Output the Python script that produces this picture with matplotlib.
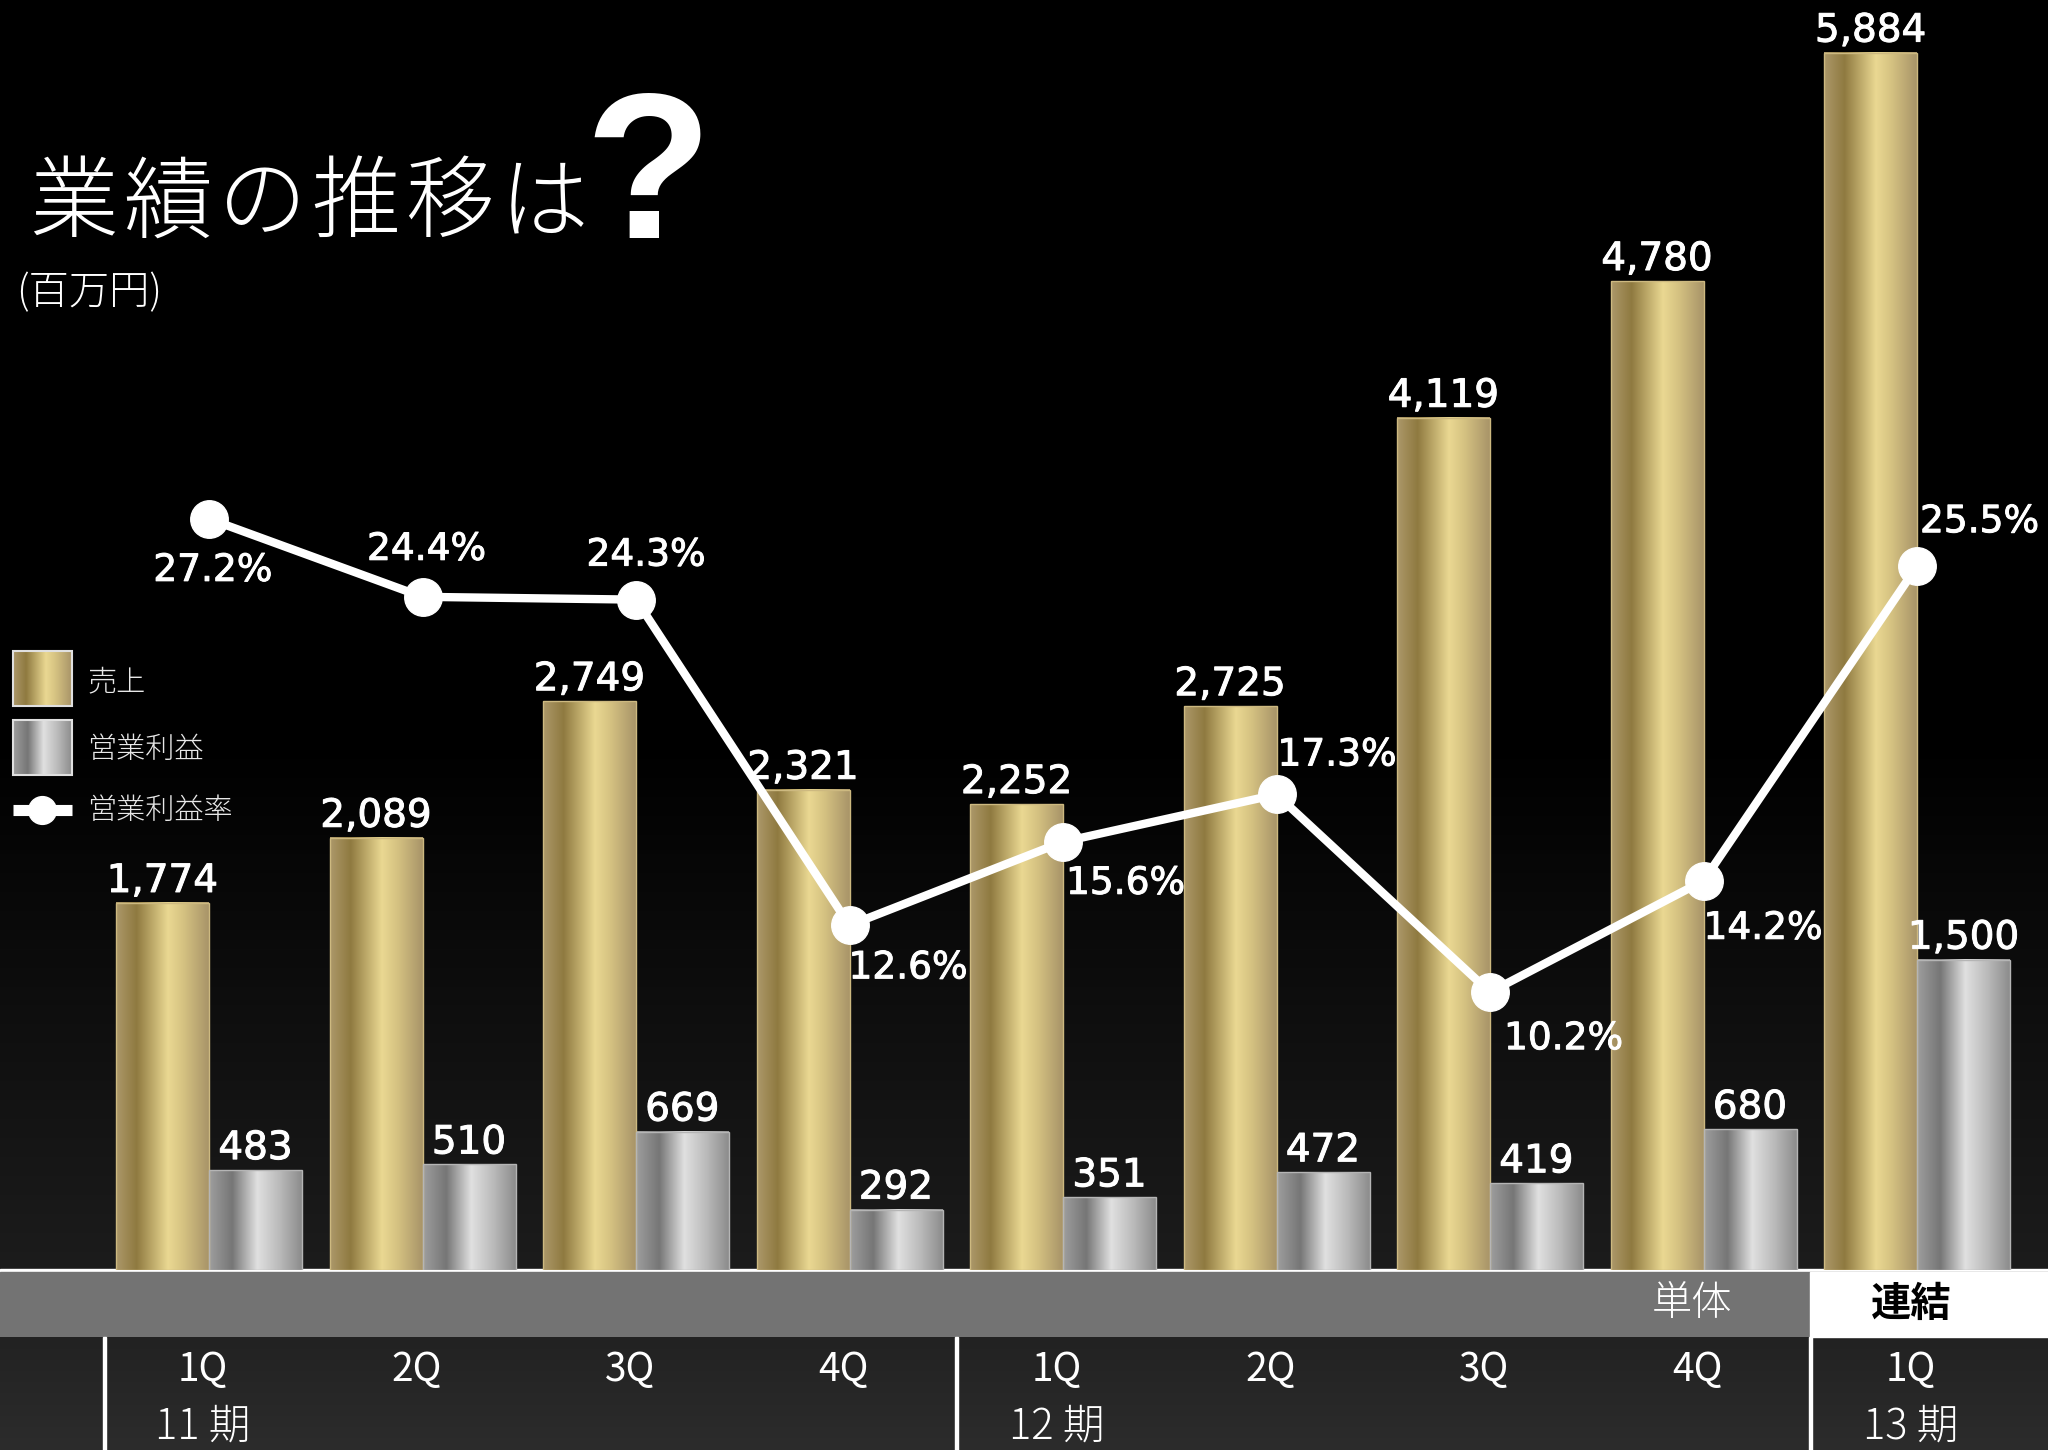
import numpy as np
import matplotlib
matplotlib.use("Agg")
import matplotlib.pyplot as plt
import matplotlib.patheffects as pe
from matplotlib.patches import Rectangle
from matplotlib.transforms import blended_transform_factory

# ---- data -------------------------------------------------------------
quarters = ["1Q", "2Q", "3Q", "4Q", "1Q", "2Q", "3Q", "4Q", "1Q"]
periods = ["11 期", "12 期", "13 期"]
period_first_idx = [0, 4, 8]
sales = [1774, 2089, 2749, 2321, 2252, 2725, 4119, 4780, 5884]           # 売上 (百万円)
op_income = [483, 510, 669, 292, 351, 472, 419, 680, 1500]             # 営業利益 (百万円)
op_margin = [27.2, 24.4, 24.3, 12.6, 15.6, 17.3, 10.2, 14.2, 25.5]     # 営業利益率 (%)

# ---- figure geometry (pixels) ----------------------------------------
W, H = 2048, 1450
BASE = 1270            # baseline of the bars, from top
X0, DX = 209, 213.5    # first group centre, spacing between groups
CJK = ["Noto Sans CJK JP", "DejaVu Sans"]

fig = plt.figure(figsize=(W / 100, H / 100), dpi=100)
fig.patch.set_facecolor("black")

# background layer in pixel coordinates
bg = fig.add_axes([0, 0, 1, 1])
bg.set_xlim(0, W)
bg.set_ylim(H, 0)
bg.axis("off")

rows = np.arange(H, dtype=float)
shade = np.clip((rows - 740) / (BASE - 740), 0, 1) * 0x1c / 255.0
back = np.repeat(shade[:, None, None], 3, axis=2)
bg.imshow(back, extent=(0, W, H, 0), aspect="auto", zorder=0)

# footer bands
bg.add_patch(Rectangle((0, BASE - 1), W, 3, color="white", zorder=2))
bg.add_patch(Rectangle((0, BASE + 2), W, 1337 - BASE - 2, color="#737373", zorder=2))
bg.add_patch(Rectangle((1810, BASE + 2), W - 1810, 1337 - BASE - 2, color="white", zorder=3))
foot = np.linspace(0x22, 0x2c, 120)[:, None, None] / 255.0
bg.imshow(np.repeat(foot, 3, axis=2), extent=(0, W, H, 1337), aspect="auto", zorder=2)
for xv in (104, 956, 1810):
    bg.add_patch(Rectangle((xv - 1.5, 1337), 3, H - 1337, color="white", zorder=4))
bg.text(1692, 1304, "単体", color="white", fontsize=29, family=CJK,
        weight="light", ha="center", va="center", zorder=5)
bg.text(1911, 1304, "連結", color="black", fontsize=29, family=CJK,
        weight="bold", ha="center", va="center", zorder=5)


def hgrad(stops, n=256):
    pos = [s[0] for s in stops]
    out = np.zeros((1, n, 3))
    t = np.linspace(0, 1, n)
    for c in range(3):
        out[0, :, c] = np.interp(t, pos, [s[1][c] / 255.0 for s in stops])
    return out


gold = hgrad([(0.0, (172, 152, 106)), (0.22, (143, 122, 64)), (0.56, (234, 216, 146)),
              (0.72, (214, 195, 130)), (1.0, (168, 148, 104))])
silver = hgrad([(0.0, (158, 158, 158)), (0.25, (118, 118, 118)), (0.52, (224, 224, 224)),
                (0.76, (186, 186, 186)), (1.0, (140, 140, 140))])

# title
title_chars = "業績の推移は"
for i, ch in enumerate(title_chars):
    bg.text(74 + 94 * i, 205, ch, color="white", fontsize=64, family=CJK,
            weight="light", ha="center", va="center")
bg.text(584, 238, "?", color="white", fontsize=150, family="Liberation Sans",
        weight="bold", ha="left", va="baseline")
bg.text(16, 293, "(百万円)", color="white", fontsize=29, family=CJK,
        weight="light", ha="left", va="center")

# legend
bg.imshow(gold, extent=(13, 72, 706, 651), aspect="auto", zorder=3)
bg.add_patch(Rectangle((13, 651), 59, 55, fill=False, ec="#e0e0e0", lw=1.5, zorder=4))
bg.imshow(silver, extent=(13, 72, 775, 720), aspect="auto", zorder=3)
bg.add_patch(Rectangle((13, 720), 59, 55, fill=False, ec="#e0e0e0", lw=1.5, zorder=4))
bg.plot([13, 72], [810, 810], color="white", lw=8, solid_capstyle="butt", zorder=3)
bg.plot([42], [810], "o", color="white", ms=20, zorder=4)
for label, yv in (("売上", 682), ("営業利益", 750), ("営業利益率", 811)):
    bg.text(87, yv, label, color="#e8e8e8", fontsize=21, family=CJK,
            weight="light", ha="left", va="center")

# ---- bars -------------------------------------------------------------
ax = fig.add_axes([0, (H - BASE) / H, 1, BASE / H])
ax.patch.set_alpha(0)
x = np.arange(len(quarters))
bw = 93 / DX
xlim = (-X0 / DX, (W - X0) / DX)
ylim = (0, BASE / 0.2069)

bars_s = ax.bar(x - bw / 2, sales, width=bw, facecolor="none",
                edgecolor="#cdb980", linewidth=1, zorder=3)
bars_o = ax.bar(x + bw / 2, op_income, width=bw, facecolor="none",
                edgecolor="#b5b5b5", linewidth=1, zorder=3)
for bars, grad in ((bars_s, gold), (bars_o, silver)):
    for r in bars:
        x0, w, h = r.get_x(), r.get_width(), r.get_height()
        ax.imshow(grad, extent=(x0, x0 + w, 0, h), aspect="auto",
                  interpolation="bilinear", zorder=2)

num_fx = [pe.withStroke(linewidth=0.7, foreground="white")]
for bars, vals in ((bars_s, sales), (bars_o, op_income)):
    for r, v in zip(bars, vals):
        ax.annotate(f"{v:,}", (r.get_x() + r.get_width() / 2, r.get_height()),
                    xytext=(0, 11), textcoords="offset pixels", ha="center",
                    va="baseline", color="white", fontsize=28,
                    family="DejaVu Sans", path_effects=num_fx)
ax.set_xlim(*xlim)
ax.set_ylim(*ylim)
ax.axis("off")

# quarter and period labels under the bars
tr = blended_transform_factory(ax.transData, bg.transData)
for i, q in enumerate(quarters):
    bg.text(i - 0.03, 1370, q, transform=tr, color="white", fontsize=28, family=CJK,
            ha="center", va="center", zorder=5)
for idx, p in zip(period_first_idx, periods):
    bg.text(idx - 0.03, 1427, p, transform=tr, color="white", fontsize=30,
            family=CJK, weight="light", ha="center", va="center", zorder=5)

# ---- operating margin line -------------------------------------------
ax2 = fig.add_axes([0, (H - BASE) / H, 1, BASE / H])
ax2.patch.set_alpha(0)
ax2.plot(x, op_margin, color="white", lw=6, marker="o", ms=27,
         solid_joinstyle="round", zorder=5)
ax2.set_xlim(*xlim)
ax2.set_ylim(0.22, 0.22 + BASE / 27.84)
ax2.axis("off")

# label placement for each margin point: (ha, dx, dy) in pixels
margin_pos = [("center", 4, -52), ("center", 4, 47), ("center", 10, 44),
              ("left", -1, -43), ("left", 3, -42), ("left", 1, 39),
              ("left", 14, -47), ("left", 0, -48), ("left", 3, 44)]
for xi, v, (ha, dx, dy) in zip(x, op_margin, margin_pos):
    ax2.annotate(f"{v:.1f}%", (xi, v), xytext=(dx, dy), textcoords="offset pixels",
                 ha=ha, va="center", color="white", fontsize=27,
                 family="DejaVu Sans", path_effects=num_fx, zorder=6)

fig.savefig("out.png", dpi=100, facecolor="black")
